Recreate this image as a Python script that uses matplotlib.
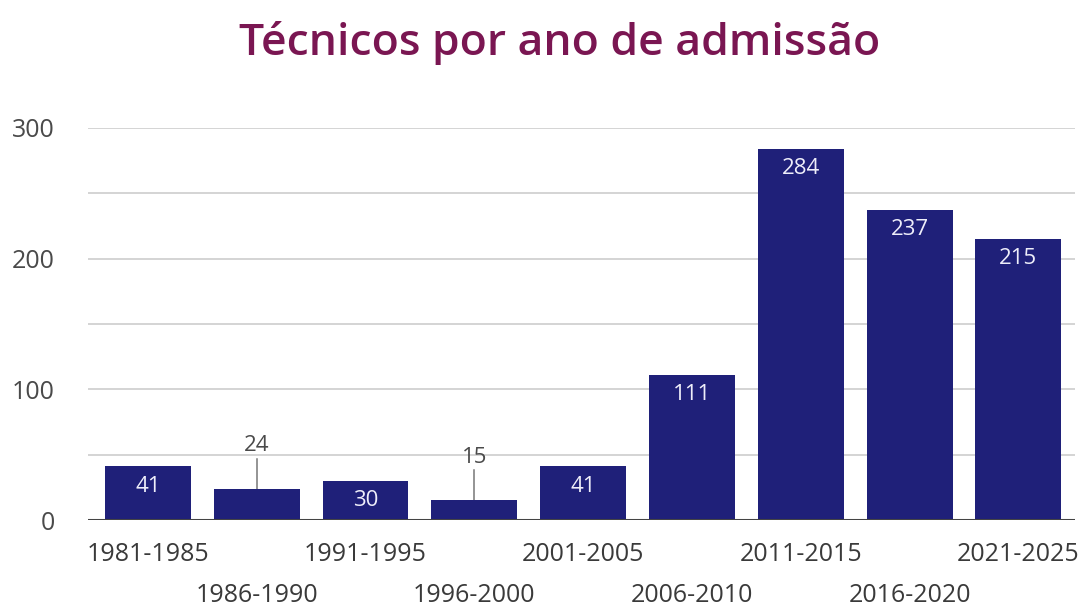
import matplotlib
matplotlib.use("Agg")
import matplotlib.pyplot as plt

# admissions per five-year period
periods = ["1981-1985", "1986-1990", "1991-1995", "1996-2000", "2001-2005",
           "2006-2010", "2011-2015", "2016-2020", "2021-2025"]
counts = [41, 24, 30, 15, 41, 111, 284, 237, 215]
y_ticks = [0, 100, 200, 300]
grid_levels = [50, 100, 150, 200, 250, 300]

BAR = "#1f2079"
TITLE = "#7a1652"
TEXT = "#4a4a4a"

plt.rcParams["font.family"] = ["Open Sans", "DejaVu Sans"]

fig = plt.figure(figsize=(10.91, 6.08), dpi=100)
ax = fig.add_axes([0.0807, 0.1447, 0.9046, 0.6448])

xs = list(range(len(periods)))
ax.bar(xs, counts, width=0.79, color=BAR, zorder=3)

for lvl in grid_levels:
    ax.axhline(lvl, color="#d4d4d4", lw=1.4, zorder=1)
ax.axhline(0, color="#444444", lw=2.2, zorder=4)

# labels: inside the bar when it is tall enough, above with a leader otherwise
for x, v in zip(xs, counts):
    if v < 28:
        ax.plot([x, x], [v, v + 23], color="#777777", lw=1.1, zorder=2)
        ax.text(x, v + 33, str(v), ha="center", va="center",
                fontsize=16, color=TEXT)
    else:
        ax.text(x, v - 15, str(v), ha="center", va="center",
                fontsize=16, color="#eeeefa", zorder=5)

ax.set_xlim(-0.55, 8.52)
ax.set_ylim(0, 300)
ax.set_yticks(y_ticks)
ax.set_yticklabels([str(t) for t in y_ticks], fontsize=18, color=TEXT)
ax.tick_params(axis="y", length=0, pad=24)
ax.set_xticks(xs)
ax.set_xticklabels([])
ax.tick_params(axis="x", length=0)

# staggered period labels
for i, p in enumerate(periods):
    y_off = -25 if i % 2 == 0 else -54
    ax.annotate(p, (i, 0), xytext=(0, y_off), textcoords="offset points",
                ha="center", va="center", fontsize=18, color="#3a3a3a",
                annotation_clip=False)

for s in ax.spines.values():
    s.set_visible(False)

fig.text(0.513, 0.93, "Técnicos por ano de admissão", ha="center", va="center",
         fontsize=32, fontweight="semibold", color=TITLE)

fig.savefig("out.png", dpi=100)
